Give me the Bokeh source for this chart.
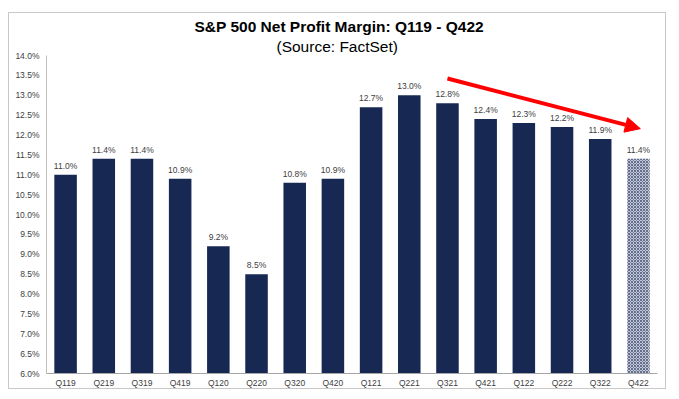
from bokeh.plotting import figure
from bokeh.models import (Range1d, FactorRange, FixedTicker, PrintfTickFormatter,
                          ColumnDataSource, Arrow, NormalHead, Title)
from bokeh.core.properties import value
from bokeh.embed import file_html
from bokeh.resources import INLINE

quarters = ["Q119", "Q219", "Q319", "Q419", "Q120", "Q220", "Q320", "Q420",
            "Q121", "Q221", "Q321", "Q421", "Q122", "Q222", "Q322", "Q422"]
margins = [11.0, 11.4, 11.4, 10.9, 9.2, 8.5, 10.8, 10.9,
           12.7, 13.0, 12.8, 12.4, 12.3, 12.2, 11.9, 11.4]
bar_labels = ["11.0%", "11.4%", "11.4%", "10.9%", "9.2%", "8.5%", "10.8%", "10.9%",
              "12.7%", "13.0%", "12.8%", "12.4%", "12.3%", "12.2%", "11.9%", "11.4%"]
y_ticks = [6.0, 6.5, 7.0, 7.5, 8.0, 8.5, 9.0, 9.5, 10.0, 10.5, 11.0, 11.5,
           12.0, 12.5, 13.0, 13.5, 14.0]
arrow_start = (10.5, 13.42)
arrow_end = (15.55, 12.16)

NAVY = "#172853"
FONT = "Liberation Sans"

p = figure(width=658, height=377, x_range=FactorRange(factors=quarters),
           y_range=Range1d(6.0, 14.0), output_backend="svg", toolbar_location=None,
           min_border_left=37, min_border_right=10, min_border_top=42,
           min_border_bottom=17)
p.styles = {"border": "1px solid #c8c8c8", "margin-left": "8px", "margin-top": "12px"}
p.outline_line_color = None
p.grid.visible = False
p.background_fill_color = "white"
p.border_fill_color = "white"

actual = ColumnDataSource(dict(x=quarters[:-1], top=margins[:-1], lab=bar_labels[:-1]))
est = ColumnDataSource(dict(x=quarters[-1:], top=margins[-1:], lab=bar_labels[-1:]))

p.vbar(x="x", top="top", bottom=0, width=0.59, source=actual,
       fill_color=NAVY, line_color=None)
p.vbar(x="x", top="top", bottom=0, width=0.59, source=est,
       fill_color="#c3c8d6", line_color=None,
       hatch_pattern="diagonal_cross", hatch_color=NAVY, hatch_scale=3, hatch_weight=0.7,
       hatch_alpha=0.8)

for src in (actual, est):
    p.text(x="x", y="top", text="lab", source=src, text_align="center",
           text_baseline="bottom", y_offset=-4, text_font=value(FONT),
           text_font_size="8.5px", text_color="#404040")

p.add_layout(Arrow(end=NormalHead(size=15, fill_color="#ff0000", line_color="#ff0000"),
                   x_start=arrow_start[0], y_start=arrow_start[1],
                   x_end=arrow_end[0], y_end=arrow_end[1],
                   line_color="#ff0000", line_width=4))

# titles (subtitle first = closest to the plot)
p.add_layout(Title(text="(Source: FactSet)", align="left", offset=230, standoff=2,
                   text_font=FONT, text_font_size="15.5px", text_font_style="normal",
                   text_color="#000000"), "above")
p.add_layout(Title(text="S&P 500 Net Profit Margin: Q119 - Q422", align="left", offset=148,
                   standoff=0, text_font=FONT, text_font_size="15.5px",
                   text_font_style="bold", text_color="#000000"), "above")

p.yaxis.ticker = FixedTicker(ticks=y_ticks)
p.yaxis.formatter = PrintfTickFormatter(format="%.1f%%")
for ax in (p.xaxis, p.yaxis):
    ax.major_tick_out = 0
    ax.major_tick_in = 0
    ax.minor_tick_out = 0
    ax.minor_tick_in = 0
    ax.major_label_text_font = FONT
    ax.major_label_text_font_size = "8.5px"
    ax.major_label_text_color = "#404040"
p.yaxis.axis_line_color = "#bfbfbf"
p.xaxis.axis_line_color = "#a6a6a6"
p.yaxis.major_label_standoff = 7
p.xaxis.major_label_standoff = 4

open("out.html", "w").write(file_html(p, INLINE))
